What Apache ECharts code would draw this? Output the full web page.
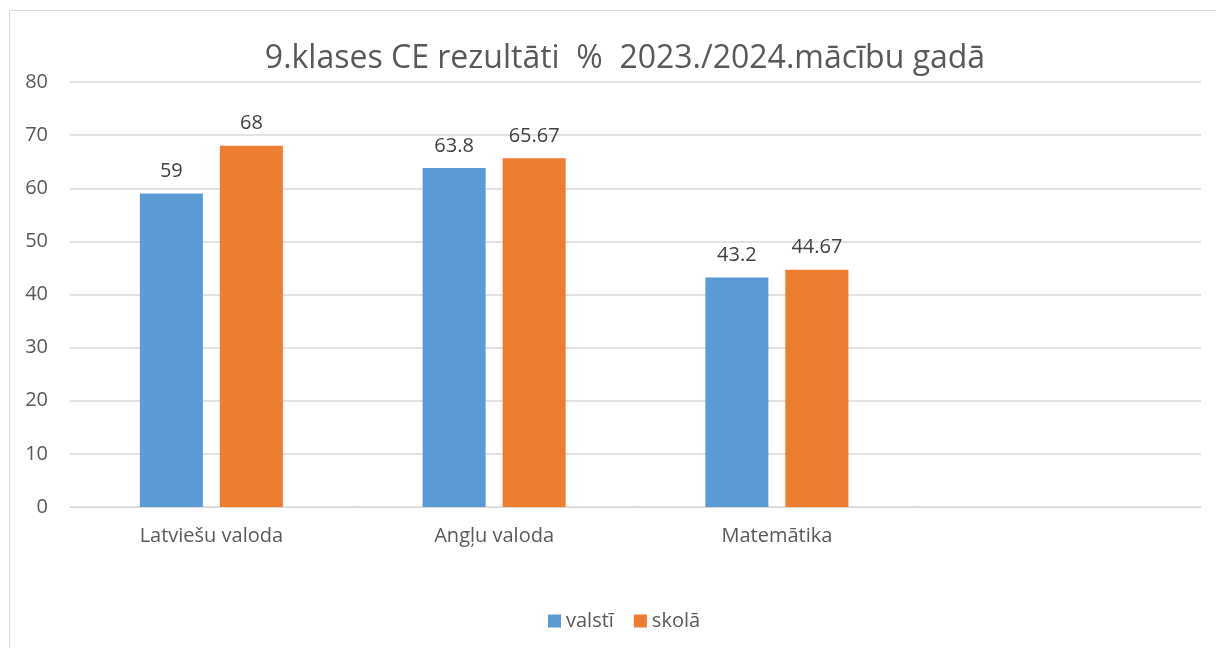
<!DOCTYPE html>
<html><head><meta charset="utf-8">
<script src="https://cdn.jsdelivr.net/npm/echarts@6/dist/echarts.min.js"></script>
<style>html,body{margin:0;padding:0;background:#fff}#c{width:1216px;height:648px}</style>
</head><body><div id="c"></div>
<script>
const categories = ['Latviešu valoda', 'Angļu valoda', 'Matemātika', ''];
const valsti = [59, 63.8, 43.2, null];
const skola = [68, 65.67, 44.67, null];
const yTicks = [0, 10, 20, 30, 40, 50, 60, 70, 80];

const chart = echarts.init(document.getElementById('c'), null, {renderer: 'canvas'});
const font = '"Open Sans", "Noto Sans", sans-serif';
chart.setOption({
  animation: false,
  textStyle: {fontFamily: font},
  graphic: [{type: 'rect', shape: {x: 9.5, y: 10.5, width: 1400, height: 800}, style: {fill: 'none', stroke: '#d9d9d9', lineWidth: 1}, silent: true}],
  title: {text: '9.klases CE rezultāti  %  2023./2024.mācību gadā', left: 620, textAlign: 'center', top: 38,
    textStyle: {fontFamily: font, fontSize: 32, fontWeight: 'normal', color: '#595959'}},
  legend: {top: 606, left: 543, itemWidth: 13, itemHeight: 13, itemGap: 20, icon: 'rect',
    textStyle: {fontFamily: font, fontSize: 20, color: '#595959', padding: [0,0,0,0]}},
  grid: {left: 70, right: 15, top: 82, bottom: 141, containLabel: false},
  xAxis: {type: 'category', data: categories,
    axisLine: {lineStyle: {color: '#d9d9d9'}}, axisTick: {show: false},
    axisLabel: {fontFamily: font, fontSize: 20, color: '#595959', margin: 19}},
  yAxis: {type: 'value', min: yTicks[0], max: yTicks[yTicks.length-1], interval: 10,
    axisLine: {show: false}, axisTick: {show: false},
    splitLine: {lineStyle: {color: '#d9d9d9', width: 1.5}},
    axisLabel: {fontFamily: font, fontSize: 20, color: '#595959', margin: 22}},
  series: [
    {name: 'valstī', type: 'bar', data: valsti, barWidth: 63, barGap: '27%', itemStyle: {color: '#5b9bd5'},
      label: {show: true, position: 'top', distance: 12, fontFamily: font, fontSize: 20, color: '#404040'}},
    {name: 'skolā', type: 'bar', data: skola, barWidth: 63, itemStyle: {color: '#ed7d31'},
      label: {show: true, position: 'top', distance: 12, fontFamily: font, fontSize: 20, color: '#404040'}}
  ]
});
</script></body></html>
